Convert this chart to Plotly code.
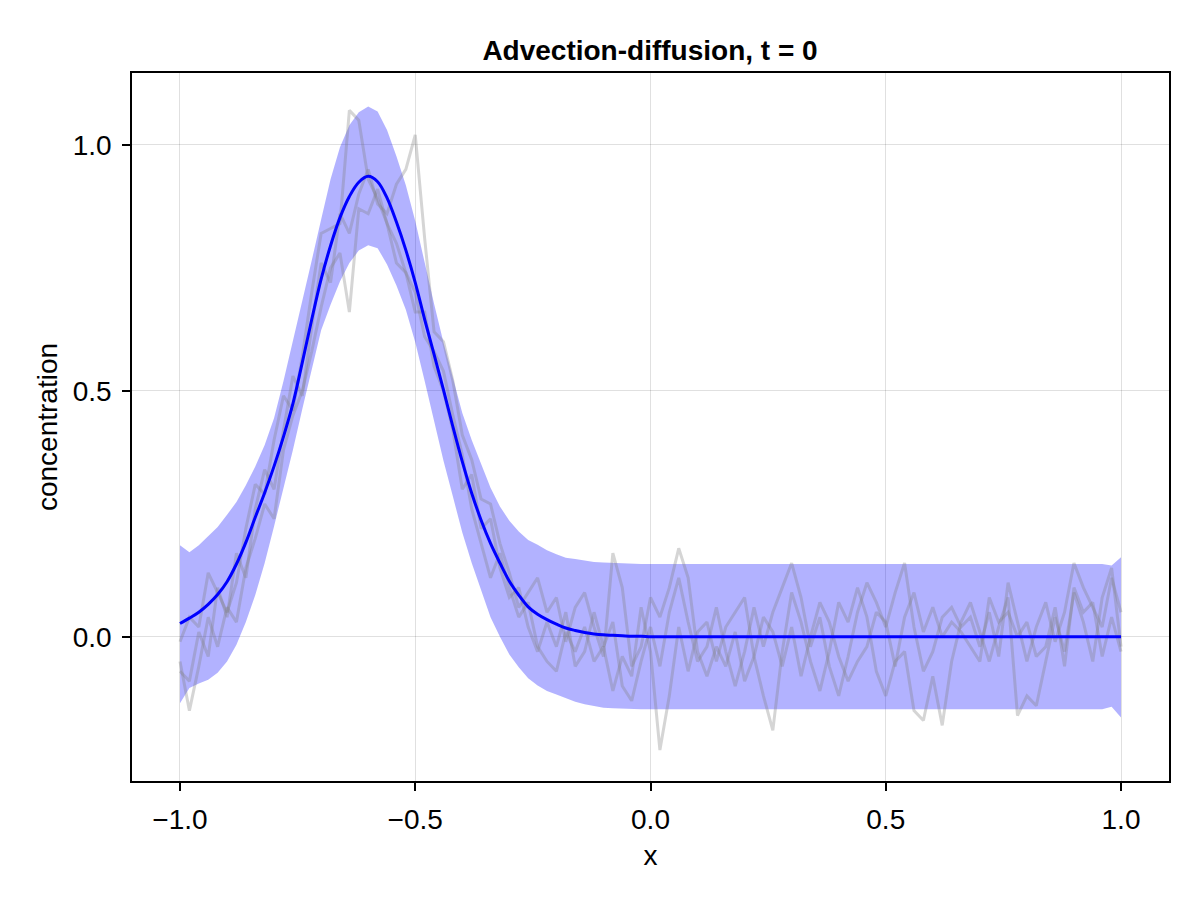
import plotly.graph_objects as go

# grid of sample positions, step 0.02 from -1 to 1
x_vals = [round(-1 + 0.02 * i, 2) for i in range(101)]

# posterior mean (blue curve)
mean_vals = [
    0.027, 0.038, 0.050, 0.066, 0.086, 0.112, 0.148, 0.192, 0.243, 0.293,
    0.347, 0.407, 0.474, 0.558, 0.645, 0.727, 0.795, 0.852, 0.895, 0.924,
    0.936, 0.925, 0.892, 0.843, 0.786, 0.720, 0.645, 0.574, 0.502, 0.427,
    0.356, 0.292, 0.237, 0.190, 0.150, 0.113, 0.085, 0.061, 0.046, 0.035,
    0.026, 0.018, 0.013, 0.009, 0.006, 0.004, 0.003, 0.002, 0.001, 0.001,
    0.000, 0.000, 0.000, 0.000, 0.000, 0.000, 0.000, 0.000, 0.000, 0.000,
    0.000, 0.000, 0.000, 0.000, 0.000, 0.000, 0.000, 0.000, 0.000, 0.000,
    0.000, 0.000, 0.000, 0.000, 0.000, 0.000, 0.000, 0.000, 0.000, 0.000,
    0.000, 0.000, 0.000, 0.000, 0.000, 0.000, 0.000, 0.000, 0.000, 0.000,
    0.000, 0.000, 0.000, 0.000, 0.000, 0.000, 0.000, 0.000, 0.000, 0.000,
    0.000,
]

# uncertainty band edges
upper_vals = [
    0.186, 0.172, 0.186, 0.205, 0.223, 0.248, 0.274, 0.308, 0.346, 0.390,
    0.445, 0.520, 0.600, 0.680, 0.765, 0.848, 0.930, 0.995, 1.040, 1.066,
    1.078, 1.068, 1.030, 0.977, 0.918, 0.845, 0.760, 0.677, 0.598, 0.524,
    0.455, 0.400, 0.350, 0.303, 0.265, 0.236, 0.214, 0.197, 0.187, 0.176,
    0.168, 0.161, 0.158, 0.155, 0.152, 0.151, 0.150, 0.149, 0.148, 0.148,
    0.148, 0.148, 0.148, 0.148, 0.148, 0.148, 0.148, 0.148, 0.148, 0.148,
    0.148, 0.148, 0.148, 0.148, 0.148, 0.148, 0.148, 0.148, 0.148, 0.148,
    0.148, 0.148, 0.148, 0.148, 0.148, 0.148, 0.148, 0.148, 0.148, 0.148,
    0.148, 0.148, 0.148, 0.148, 0.148, 0.148, 0.148, 0.148, 0.148, 0.148,
    0.148, 0.148, 0.148, 0.148, 0.148, 0.148, 0.148, 0.148, 0.148, 0.145,
    0.162,
]
lower_vals = [
    -0.135, -0.104, -0.095, -0.087, -0.073, -0.050, -0.016, 0.030, 0.085, 0.150,
    0.225, 0.300, 0.380, 0.463, 0.545, 0.623, 0.675, 0.722, 0.760, 0.785,
    0.796, 0.790, 0.757, 0.714, 0.665, 0.599, 0.520, 0.438, 0.358, 0.285,
    0.212, 0.150, 0.093, 0.040, 0.000, -0.036, -0.062, -0.084, -0.099, -0.110,
    -0.117, -0.124, -0.132, -0.137, -0.141, -0.144, -0.145, -0.146, -0.147, -0.147,
    -0.147, -0.147, -0.147, -0.147, -0.147, -0.147, -0.147, -0.147, -0.147, -0.147,
    -0.147, -0.147, -0.147, -0.147, -0.147, -0.147, -0.147, -0.147, -0.147, -0.147,
    -0.147, -0.147, -0.147, -0.147, -0.147, -0.147, -0.147, -0.147, -0.147, -0.147,
    -0.147, -0.147, -0.147, -0.147, -0.147, -0.147, -0.147, -0.147, -0.147, -0.147,
    -0.147, -0.147, -0.147, -0.147, -0.147, -0.147, -0.147, -0.147, -0.147, -0.142,
    -0.164,
]

# posterior samples (gray lines)
sample_1 = [
    -0.01, 0.04, 0.02, 0.13, 0.09, 0.05, 0.11, 0.22, 0.31, 0.29,
    0.40, 0.49, 0.46, 0.57, 0.70, 0.82, 0.83, 0.84, 1.07, 1.05,
    0.93, 0.89, 0.84, 0.76, 0.74, 0.66, 0.66, 0.55, 0.50, 0.42,
    0.30, 0.33, 0.22, 0.24, 0.14, 0.08, 0.10, 0.02, -0.03, 0.03,
    -0.02, 0.05, -0.06, -0.03, 0.05, -0.02, 0.03, -0.10, -0.13, -0.05,
    0.02, -0.06, 0.05, 0.12, 0.03, -0.05, -0.02, 0.06, -0.03, -0.10,
    -0.03, 0.06, -0.02, 0.05, 0.10, 0.15, 0.08, -0.02, 0.04, -0.06,
    -0.12, -0.04, 0.05, 0.11, 0.07, 0.02, 0.09, 0.15, 0.02, -0.07,
    -0.03, 0.04, 0.06, 0.02, 0.04, -0.02, 0.05, -0.04, 0.11, 0.03,
    -0.05, 0.02, 0.07, -0.01, 0.05, 0.15, 0.10, 0.06, 0.02, 0.12,
    0.05,
]
sample_2 = [
    -0.05, -0.15, -0.06, 0.04, -0.02, 0.06, 0.03, 0.14, 0.20, 0.27,
    0.24, 0.38, 0.45, 0.50, 0.58, 0.67, 0.75, 0.78, 0.66, 0.87,
    0.86, 0.91, 0.84, 0.80, 0.74, 0.70, 0.61, 0.58, 0.54, 0.45,
    0.37, 0.26, 0.19, 0.12, 0.17, 0.10, 0.04, 0.07, -0.02, -0.05,
    -0.07, 0.01, -0.03, 0.02, -0.05, -0.02, -0.11, -0.04, -0.08, 0.06,
    -0.03, -0.23, -0.12, 0.02, -0.07, 0.01, 0.03, -0.05, 0.02, 0.05,
    0.08, -0.04, -0.12, -0.19, -0.03, 0.09, 0.03, -0.05, -0.11, -0.03,
    0.07, 0.03, 0.10, 0.04, -0.07, -0.12, -0.05, -0.03, -0.15, -0.17,
    -0.08, -0.18, -0.05, 0.03, 0.07, 0.01, -0.05, 0.02, 0.08, -0.16,
    -0.12, -0.14, -0.05, 0.04, -0.03, 0.09, 0.03, -0.05, 0.08, 0.14,
    -0.02,
]
sample_3 = [
    -0.07, -0.09, 0.01, -0.04, 0.10, 0.04, 0.17, 0.12, 0.26, 0.34,
    0.30, 0.42, 0.53, 0.49, 0.63, 0.76, 0.72, 0.86, 0.82, 0.90,
    0.95, 0.88, 0.86, 0.92, 0.95, 1.02, 0.81, 0.62, 0.60, 0.52,
    0.41, 0.36, 0.28, 0.27, 0.19, 0.13, 0.06, 0.09, 0.12, 0.05,
    0.08, -0.01, 0.06, 0.09, 0.02, -0.04, 0.17, 0.10, -0.06, -0.02,
    0.08, 0.04, 0.10, 0.18, 0.12, -0.03, -0.08, -0.02, -0.06, 0.01,
    -0.09, -0.04, 0.04, 0.01, -0.06, 0.02, -0.08, 0.00, 0.07, 0.03,
    -0.04, -0.09, -0.05, -0.02, 0.05, 0.03, -0.06, 0.04, 0.09, 0.01,
    0.06, 0.00, 0.03, 0.01, -0.02, -0.05, 0.08, 0.03, 0.05, 0.00,
    0.03, -0.04, -0.02, 0.06, -0.06, 0.10, 0.05, 0.07, -0.04, 0.04,
    -0.03,
]
samples = [sample_1, sample_2, sample_3]

x_ticks = [-1.0, -0.5, 0.0, 0.5, 1.0]
y_ticks = [0.0, 0.5, 1.0]

fig = go.Figure()

# band: upper edge then fill down to lower edge
fig.add_trace(go.Scatter(x=x_vals, y=upper_vals, mode="lines",
                         line=dict(width=0), hoverinfo="skip", showlegend=False))
fig.add_trace(go.Scatter(x=x_vals, y=lower_vals, mode="lines",
                         line=dict(width=0), fill="tonexty",
                         fillcolor="rgba(0,0,255,0.3)", hoverinfo="skip",
                         showlegend=False))

for s in samples:
    fig.add_trace(go.Scatter(x=x_vals, y=s, mode="lines",
                             line=dict(color="rgba(128,128,128,0.33)", width=3),
                             showlegend=False))

fig.add_trace(go.Scatter(x=x_vals, y=mean_vals, mode="lines",
                         line=dict(color="blue", width=3, shape="spline"),
                         showlegend=False))

axis_common = dict(
    showline=True, mirror=True, linecolor="black", linewidth=1.5,
    showgrid=True, gridcolor="rgba(0,0,0,0.12)", gridwidth=1,
    zeroline=False, ticks="outside", ticklen=8, tickwidth=1.5,
    tickcolor="black", tickformat=".1f",
    tickfont=dict(family="Liberation Sans, Arial, sans-serif", size=28, color="black"),
)

fig.update_layout(
    width=1200, height=900,
    plot_bgcolor="white", paper_bgcolor="white",
    margin=dict(l=124, r=39, t=65, b=127),
    font=dict(family="Liberation Sans, Arial, sans-serif", size=24, color="black"),
    title=dict(text="<b>Advection-diffusion, t = 0</b>", x=0.535, xanchor="center",
               y=0.953, yanchor="middle",
               font=dict(size=28, color="black")),
    xaxis=dict(axis_common, range=[-1.102, 1.102], tickvals=x_ticks,
               ticklabelstandoff=5,
               title=dict(text="x", standoff=11, font=dict(size=28))),
    yaxis=dict(axis_common, range=[-0.293, 1.146], tickvals=y_ticks,
               ticklabelstandoff=5,
               title=dict(text="concentration", standoff=7, font=dict(size=28))),
)

fig.write_html("out.html")
